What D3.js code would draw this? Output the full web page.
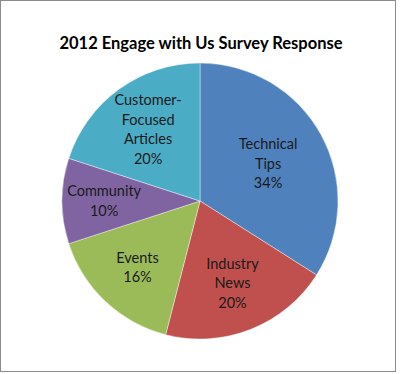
<!DOCTYPE html>
<html lang="en">
<head>
<meta charset="UTF-8" />
<script src="https://d3js.org/d3.v7.min.js"></script>
<title>2012 Engage with Us Survey Response</title>
<style>
  body { margin: 0; background: #fff; }
  text { font-family: Lato, Calibri, "DejaVu Sans", sans-serif; }
</style>
</head>
<body>
<script>
var width = 400;
var height = 374;

// data
var title = "2012 Engage with Us Survey Response";
var categories = ["Technical Tips", "Industry News", "Events", "Community", "Customer-Focused Articles"];
var labelLines = [["Technical", "Tips"], ["Industry", "News"], ["Events"], ["Community"], ["Customer-", "Focused", "Articles"]];
var values = [34, 20, 16, 10, 20];
var colors = ["#4f81bd", "#c0504d", "#9bbb59", "#8064a2", "#4bacc6"];

var cx = 200, cy = 201, radius = 138;

var svg = d3.select("body").append("svg").attr("width", width).attr("height", height);

// chart frame
svg.append("rect")
  .attr("x", 0.5).attr("y", 0.5)
  .attr("width", 395).attr("height", 371)
  .attr("fill", "#fff").attr("stroke", "#8c8c8c");

svg.append("text")
  .attr("x", 201).attr("y", 49)
  .attr("text-anchor", "middle")
  .attr("font-size", 16.5).attr("font-weight", "bold")
  .attr("fill", "#000")
  .text(title);

var data = categories.map(function(c, i) {
  return { name: c, lines: labelLines[i], value: values[i], color: colors[i] };
});

var total = d3.sum(values);
var pie = d3.pie().sort(null).value(function(d) { return d.value; });
var arc = d3.arc().innerRadius(0).outerRadius(radius);

var g = svg.append("g").attr("transform", "translate(" + cx + "," + cy + ")");

g.selectAll("path.slice").data(pie(data)).enter().append("path")
  .attr("class", "slice")
  .attr("d", arc)
  .attr("fill", function(d) { return d.data.color; })
  .attr("stroke", "#fff").attr("stroke-width", 0.4);

// "best fit" style: narrow slices push their label further out
var lineH = 19.5;
g.selectAll("text.lbl").data(pie(data)).enter().append("text")
  .attr("class", "lbl")
  .attr("text-anchor", "middle")
  .attr("font-size", 14.5)
  .attr("fill", "#1a1a1a")
  .each(function(d) {
    var lr = radius * (0.75 - 0.55 * d.value / total);
    var c = d3.arc().innerRadius(lr).outerRadius(lr).centroid(d);
    var lines = d.data.lines.concat([Math.round(d.value) + "%"]);
    var y0 = c[1] - (lines.length - 1) * lineH / 2 + 5;
    var t = d3.select(this);
    lines.forEach(function(s, i) {
      t.append("tspan").attr("x", c[0]).attr("y", y0 + i * lineH).text(s);
    });
  });
</script>
</body>
</html>
